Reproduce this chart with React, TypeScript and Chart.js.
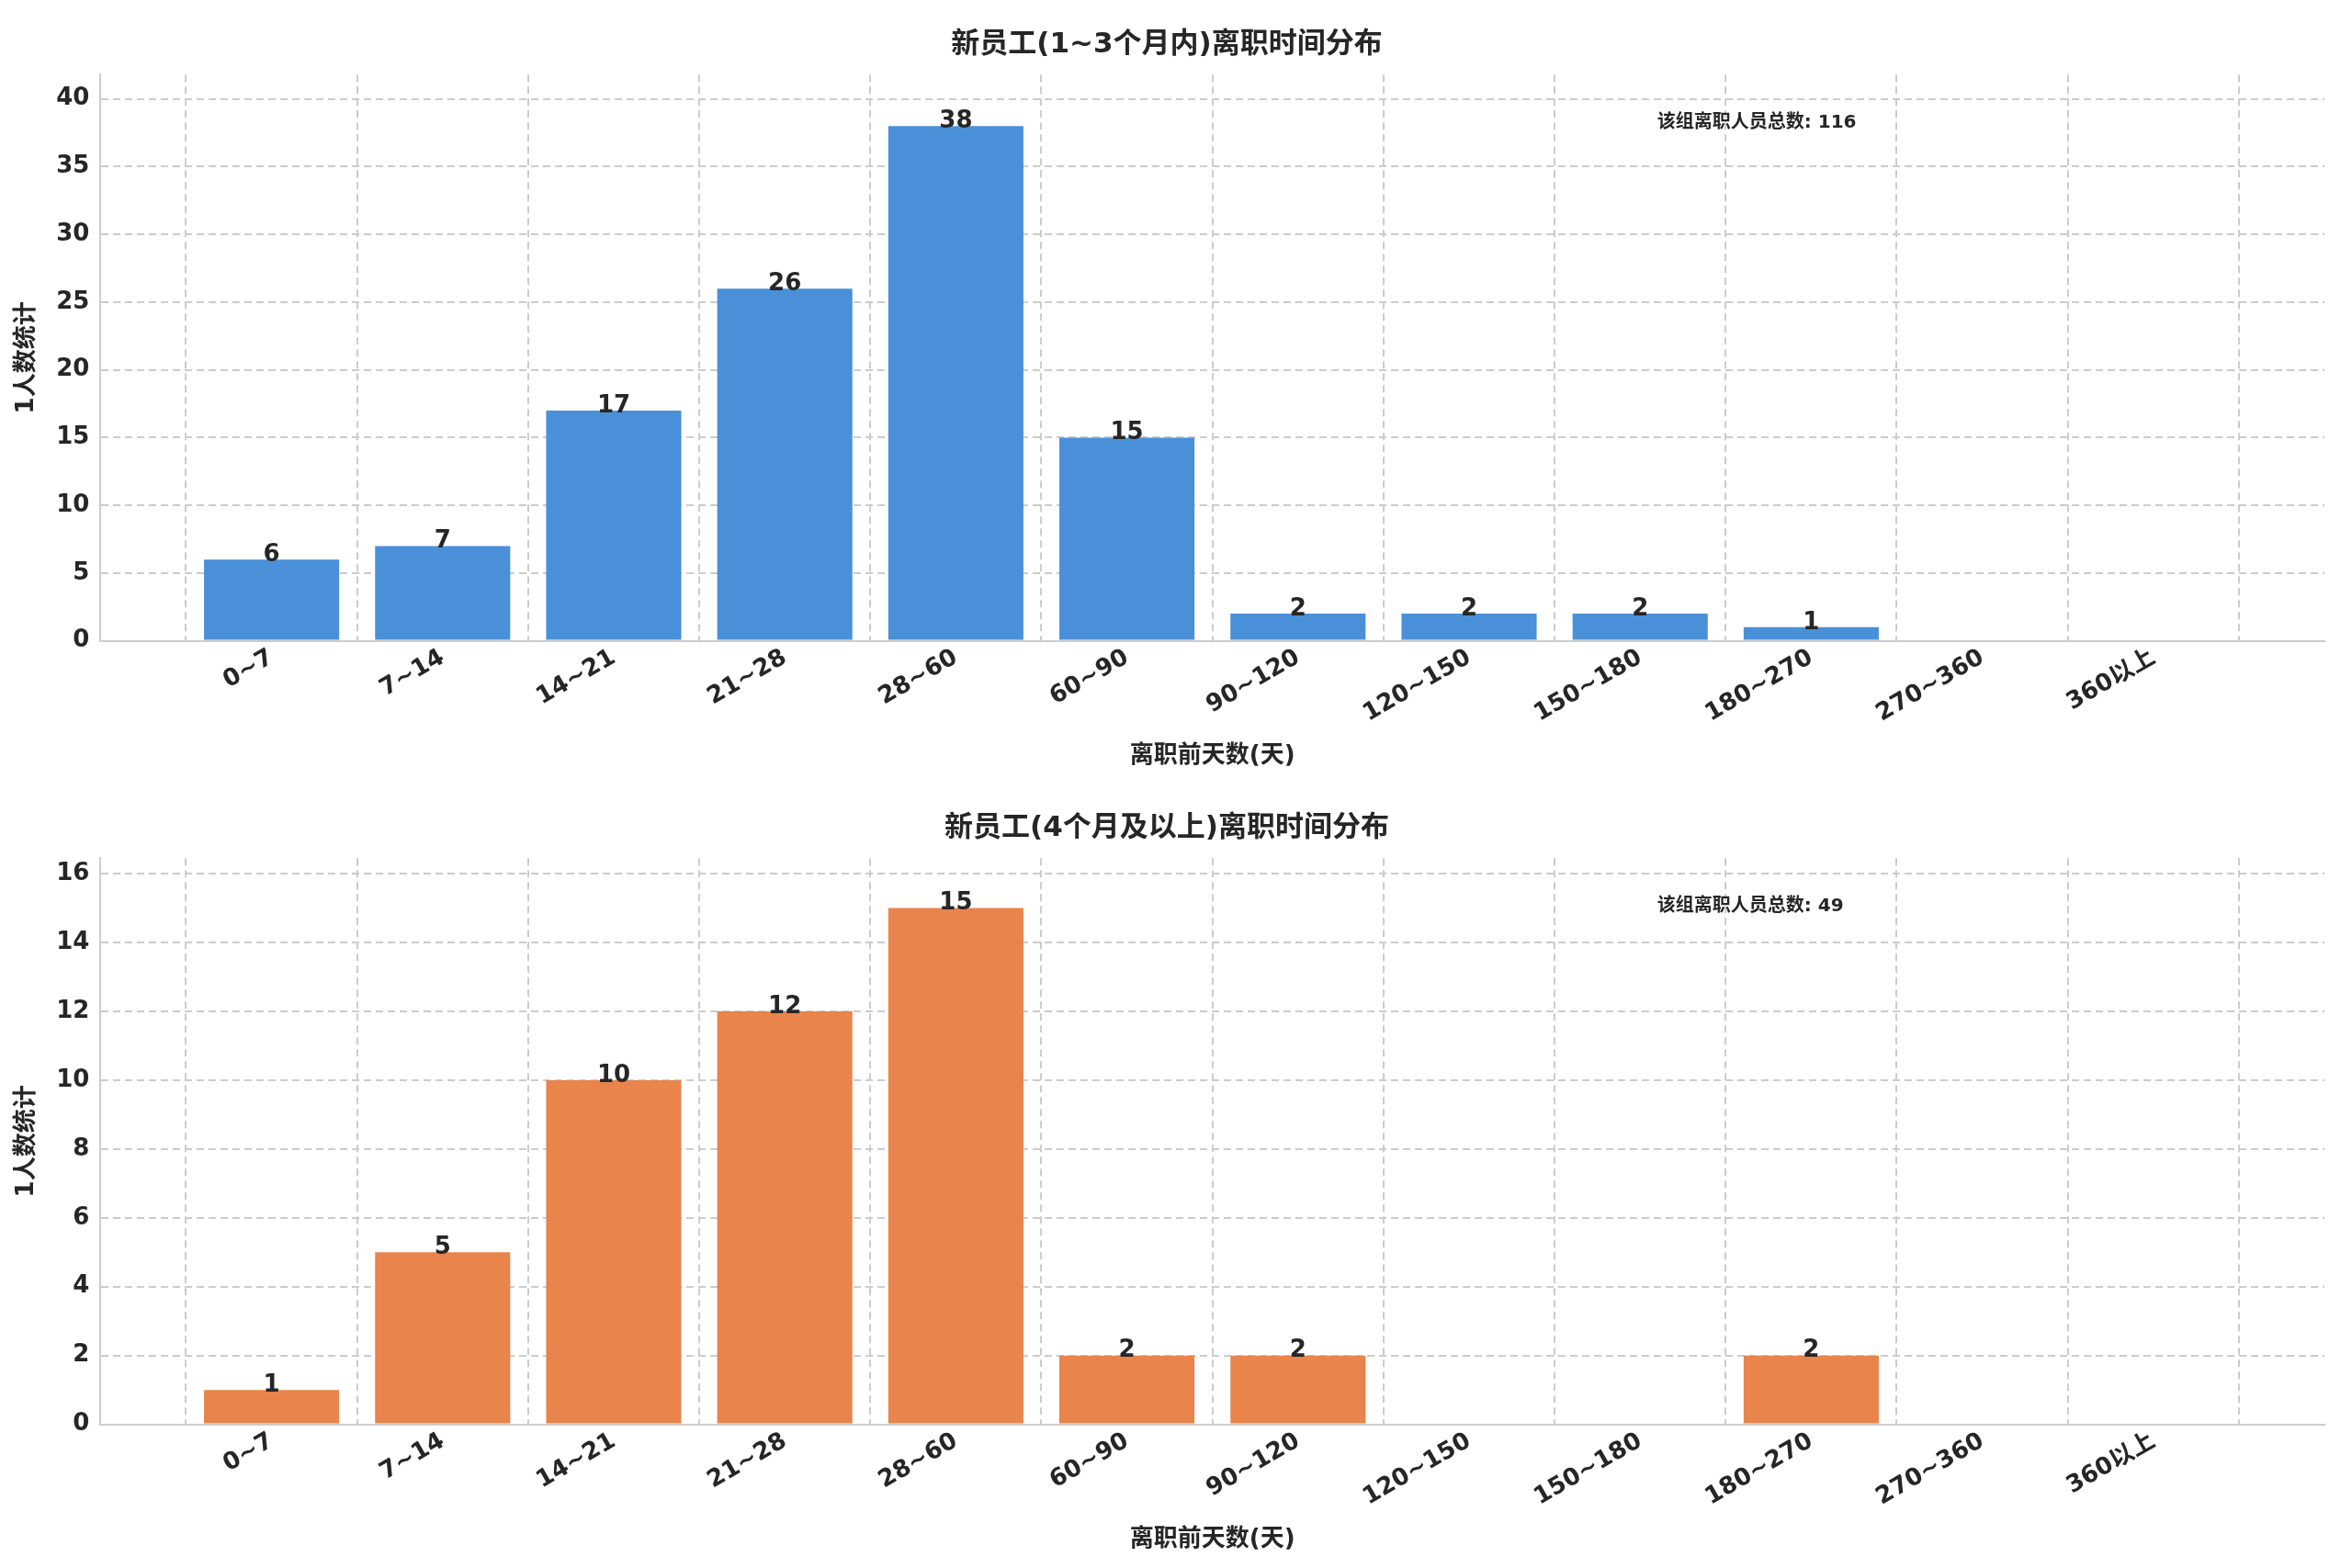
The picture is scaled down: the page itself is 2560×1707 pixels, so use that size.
import React, { useEffect, useRef } from "react";
import { Chart, registerables } from "chart.js";
Chart.register(...registerables);

const categories = ["0~7", "7~14", "14~21", "21~28", "28~60", "60~90", "90~120", "120~150", "150~180", "180~270", "270~360", "360以上"];
const seriesA = [6, 7, 17, 26, 38, 15, 2, 2, 2, 1, 0, 0];
const seriesB = [1, 5, 10, 12, 15, 2, 2, 0, 0, 2, 0, 0];
const titleA = "新员工(1~3个月内)离职时间分布";
const titleB = "新员工(4个月及以上)离职时间分布";
const xLabel = "离职前天数(天)";
const yLabel = "1人数统计";
const noteA = "该组离职人员总数: 116";
const noteB = "该组离职人员总数: 49";

const FONT = "'DejaVu Sans', 'Noto Sans CJK SC', sans-serif";
const TXT = "#262626";

function BarChart({ values, color, title, note, yMax, step }: any) {
  const ref = useRef<HTMLCanvasElement>(null);
  useEffect(() => {
    document.body.style.margin = "0";
    const labelPlugin = {
      id: "lbl",
      afterDatasetsDraw(chart: any) {
        const ctx = chart.ctx;
        const meta = chart.getDatasetMeta(0);
        ctx.save();
        ctx.fillStyle = TXT;
        ctx.font = `bold 26px ${FONT}`;
        ctx.textAlign = "center";
        ctx.textBaseline = "bottom";
        meta.data.forEach((el: any, i: number) => {
          if (values[i] > 0) ctx.fillText(String(values[i]), el.x, el.y + 8);
        });
        const a = chart.chartArea;
        ctx.font = `bold 20px ${FONT}`;
        ctx.textAlign = "left";
        ctx.textBaseline = "middle";
        ctx.fillText(note, a.left + (a.right - a.left) * 0.7, a.top + (a.bottom - a.top) * 0.085);
        ctx.restore();
      },
    };
    const chart = new Chart(ref.current!, {
      type: "bar",
      data: {
        datasets: [{
          data: values.map((v: number, i: number) => ({ x: i, y: v })),
          backgroundColor: color,
          barPercentage: 0.79,
          categoryPercentage: 1,
        }],
      },
      plugins: [labelPlugin],
      options: {
        animation: false,
        responsive: false,
        layout: { padding: { left: 10, right: 30, top: 10, bottom: 10 } },
        plugins: {
          legend: { display: false },
          tooltip: { enabled: false },
          title: { display: true, text: title, color: TXT, font: { family: FONT, size: 31 }, padding: { top: 20, bottom: 14 } },
        },
        scales: {
          x: {
            type: "linear",
            min: -1,
            max: 12,
            offset: false,
            afterBuildTicks: (s: any) => { s.ticks = []; for (let i = -1; i <= 12; i++) s.ticks.push({ value: i }); },
            ticks: {
              autoSkip: false,
              maxRotation: 30,
              minRotation: 30,
              color: TXT,
              font: { family: FONT, size: 26, weight: "bold" },
              callback: (v: any) => (v >= 0 && v < categories.length ? categories[v] : ""),
            },
            grid: { color: "#cccccc", lineWidth: 2, drawTicks: false },
            border: { display: true, color: "#cccccc", width: 2, dash: [] },
            title: { display: true, text: xLabel, color: TXT, font: { family: FONT, size: 26, weight: "bold" }, padding: { top: 12 } },
          },
          y: {
            min: 0,
            max: yMax,
            afterBuildTicks: (s: any) => { s.ticks = []; for (let v = 0; v <= yMax; v += step) s.ticks.push({ value: v }); },
            ticks: { color: TXT, font: { family: FONT, size: 26, weight: "bold" }, padding: 12 },
            grid: { color: "#cccccc", lineWidth: 2, drawTicks: false },
            border: { display: true, color: "#cccccc", width: 2, dash: [8, 5] },
            title: { display: true, text: yLabel, color: TXT, font: { family: FONT, size: 26, weight: "bold" } },
          },
        },
      } as any,
    });
    // dashed grid
    (chart.options.scales as any).x.grid.borderDash = [8, 5];
    (chart.options.scales as any).x.border.dash = [8, 5];
    chart.update();
    return () => chart.destroy();
  }, []);
  return <canvas ref={ref} width={2560} height={853} style={{ display: "block", width: 2560, height: 853 }} />;
}

export default function App() {
  return (
    <div style={{ background: "#fff", width: 2560, height: 1707 }}>
      <BarChart values={seriesA} color="#4a90d9" title={titleA} note={noteA} yMax={41.8} step={5} />
      <BarChart values={seriesB} color="#e8844c" title={titleB} note={noteB} yMax={16.45} step={2} />
    </div>
  );
}
